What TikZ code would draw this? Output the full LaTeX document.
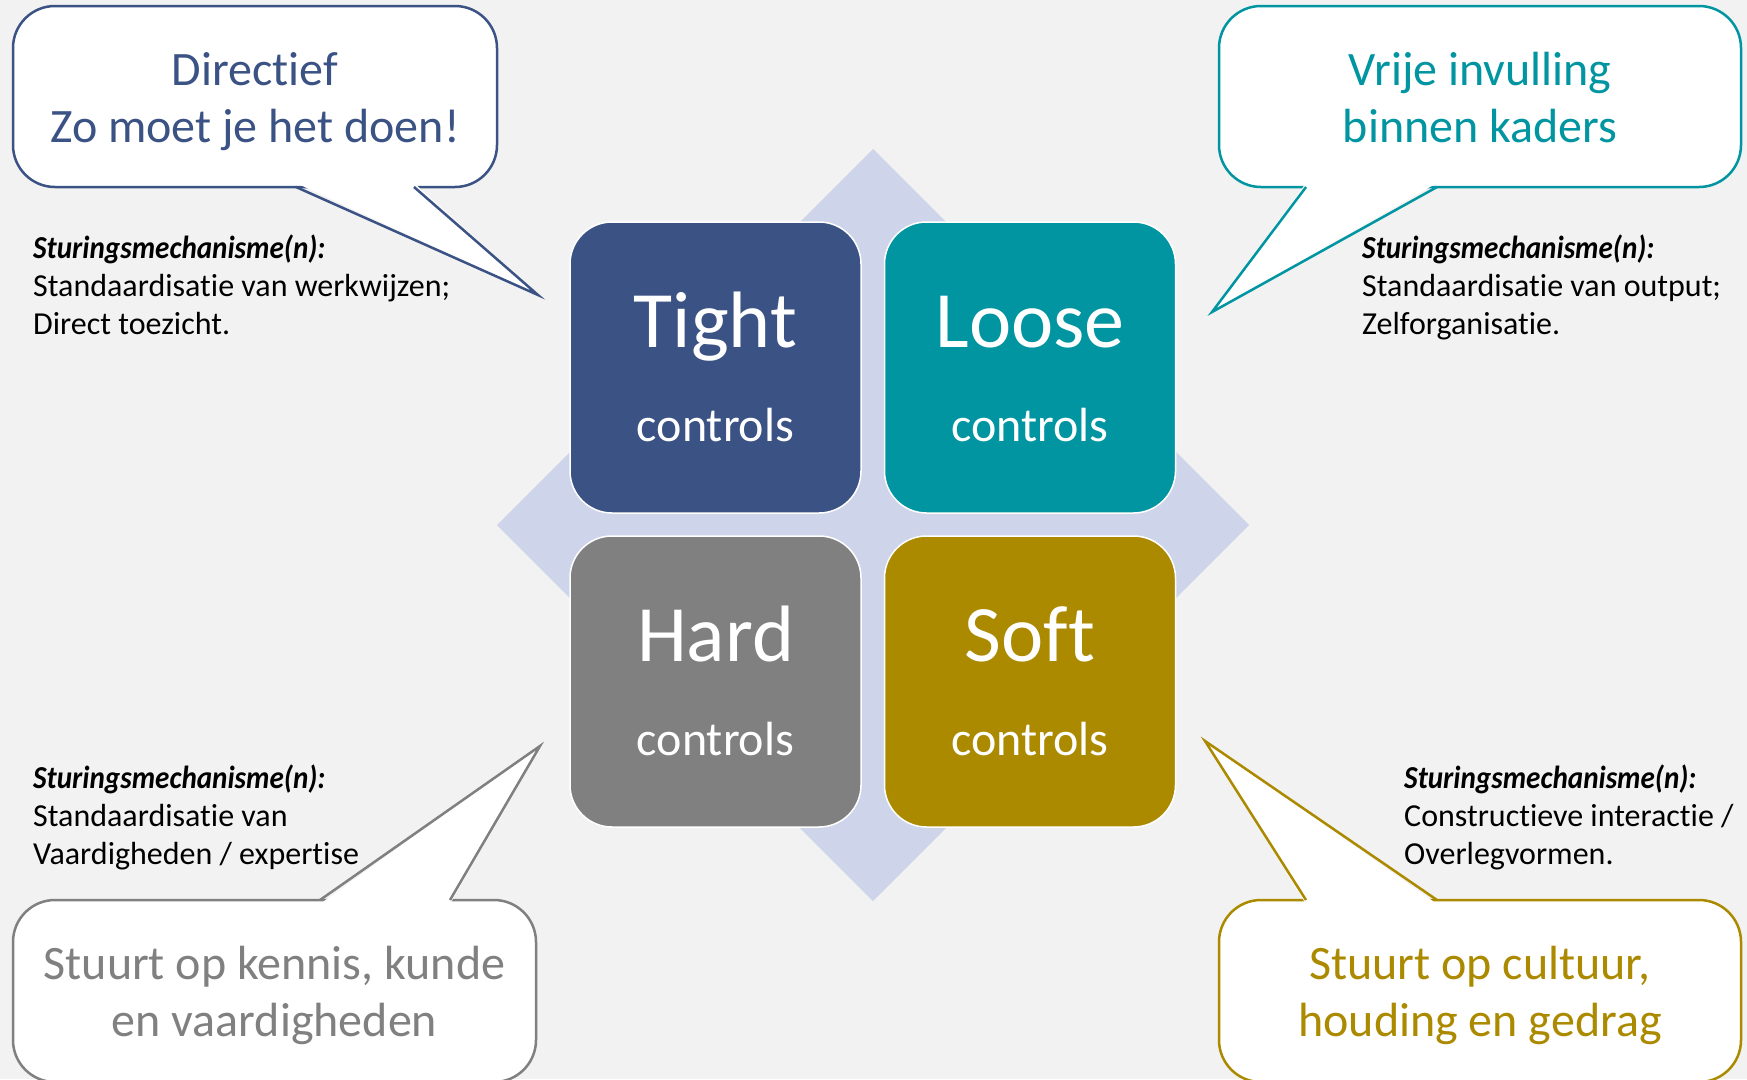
\documentclass[tikz,border=0pt]{standalone}
\usepackage{fontspec}
\setmainfont{Carlito}[Ligatures=NoCommon, BoldItalicFeatures={FakeStretch=0.91}]
\definecolor{tightblue}{HTML}{3B5284}
\definecolor{looseteal}{HTML}{0095A1}
\definecolor{hardgray}{HTML}{808080}
\definecolor{softgold}{HTML}{AC8A00}
\definecolor{diamondblue}{HTML}{CED4EA}
\definecolor{paper}{HTML}{F2F2F2}
\tikzset{
  ctrl/.style={draw=white, line width=1.5pt, rounded corners=42pt, minimum width=291pt, minimum height=291pt, inner sep=0pt},
  bigword/.style={anchor=base, text=white, font=\fontsize{80}{80}\selectfont},
  smallword/.style={anchor=base, text=white, font=\fontsize{48}{48}\selectfont},
  bubble/.style={draw=#1, fill=white, line width=2.5pt, rounded corners=42pt, inner sep=0pt},
  bubtext/.style={text=#1, align=center, inner sep=0pt, font=\fontsize{48}{57}\selectfont},
  tail/.style={draw=#1, line width=2.5pt, line join=miter},
  mech/.style={anchor=north west, align=left, inner sep=0pt, font=\fontsize{32}{38}\selectfont}
}

\begin{document}
\begin{tikzpicture}[x=1pt,y=-1pt]
  \fill[paper] (0,0) rectangle (1747,1079);
  \useasboundingbox (0,0) rectangle (1747,1079);
  % diamond behind the four boxes
  \fill[diamondblue] (873,149) -- (1249,525) -- (873,901) -- (497,525) -- cycle;
  \node[ctrl, fill=tightblue] (tight) at (715.5,367.5) {};
  \node[ctrl, fill=looseteal] (loose) at (1030,367.5) {};
  \node[ctrl, fill=hardgray] (hard) at (715.5,681.5) {};
  \node[ctrl, fill=softgold] (soft) at (1030,681.5) {};
  \foreach \n/\w in {tight/Tight, loose/Loose, hard/Hard, soft/Soft} {
    \node[bigword] at ([yshift=20pt]\n.center) {\w};
    \node[smallword] at ([yshift=-73.5pt]\n.center) {controls};
  }

  % callouts
  \node[bubble=tightblue, minimum width=484pt, minimum height=181pt] (directief) at (255,96.5) {};
  \node[bubble=looseteal, minimum width=522pt, minimum height=181pt] (vrij) at (1480,96.5) {};
  \node[bubble=hardgray, minimum width=523pt, minimum height=182pt] (kennis) at (274.5,991) {};
  \node[bubble=softgold, minimum width=522pt, minimum height=182pt] (cultuur) at (1480,991) {};

  \coordinate (tl-a) at (296,187);   \coordinate (tl-b) at (414,187);   \coordinate (tl-tip) at (538,295);
  \coordinate (tr-a) at (1306,187);  \coordinate (tr-b) at (1437,187);  \coordinate (tr-tip) at (1212,312);
  \coordinate (bl-a) at (320,900);   \coordinate (bl-b) at (450,900);   \coordinate (bl-tip) at (540,746);
  \coordinate (br-a) at (1306,900);  \coordinate (br-b) at (1437,900);  \coordinate (br-tip) at (1205,741);
  \foreach \c/\col/\s in {tl/tightblue/4, tr/looseteal/4, bl/hardgray/-4, br/softgold/-4} {
    \fill[white] ([yshift=\s pt]\c-a) -- (\c-tip) -- ([yshift=\s pt]\c-b) -- cycle;
    \draw[tail=\col] (\c-a) -- (\c-tip) -- (\c-b);
  }

  \node[bubtext=tightblue] at ([yshift=-6pt]directief.center) {\strut Directief\\Zo moet je het doen!\strut};
  \node[bubtext=looseteal] at ([yshift=-6pt]vrij.center) {\strut Vrije invulling\\binnen kaders\strut};
  \node[bubtext=hardgray] at ([yshift=-6pt]kennis.center) {\strut Stuurt op kennis, kunde\\en vaardigheden\strut};
  \node[bubtext=softgold] at ([yshift=-6pt]cultuur.center) {\strut Stuurt op cultuur,\\houding en gedrag\strut};

  % mechanisms
  \node[mech] (mech-tl) at (33,235) {\textbf{\textit{Sturingsmechanisme(n):}}\\Standaardisatie van werkwijzen;\\Direct toezicht.};
  \node[mech] (mech-tr) at (1362,235) {\textbf{\textit{Sturingsmechanisme(n):}}\\Standaardisatie van output;\\Zelforganisatie.};
  \node[mech] (mech-bl) at (33,765) {\textbf{\textit{Sturingsmechanisme(n):}}\\Standaardisatie van\\Vaardigheden / expertise};
  \node[mech] (mech-br) at (1404,765) {\textbf{\textit{Sturingsmechanisme(n):}}\\Constructieve interactie /\\Overlegvormen.};
\end{tikzpicture}
\end{document}
